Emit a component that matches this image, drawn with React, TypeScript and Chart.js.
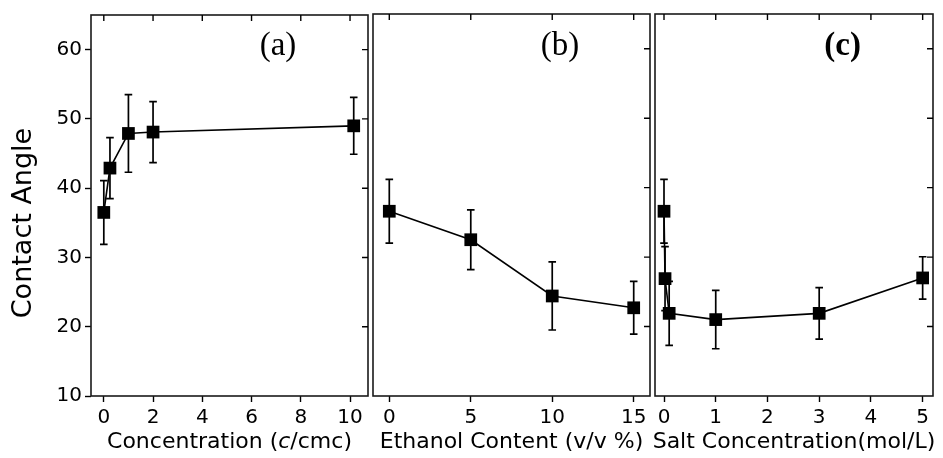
import React, { useEffect, useRef } from "react";
import { Chart, registerables } from "chart.js";
Chart.register(...registerables);

// ---------- data ----------
const yTickValues = [10, 20, 30, 40, 50, 60];
const yMin = 10;
const yMax = 65;
const yTitle = "Contact Angle";

const aLabel = "(a)";
// title parts: [text, italic]
const aTitleParts: [string, boolean][] = [["Concentration (", false], ["c", true], ["/cmc)", false]];
const aX = [0, 0.25, 1, 2, 10.15];
const aY = [36.5, 42.9, 47.9, 48.1, 49.0];
const aErr = [4.6, 4.4, 5.6, 4.4, 4.1];
const aTicks = [0, 2, 4, 6, 8, 10];

const bLabel = "(b)";
const bTitleParts: [string, boolean][] = [["Ethanol Content (v/v %)", false]];
const bX = [0, 5, 10, 15];
const bY = [36.6, 32.5, 24.4, 22.7];
const bErr = [4.6, 4.3, 4.9, 3.8];
const bTicks = [0, 5, 10, 15];

const cLabel = "(c)";
const cTitleParts: [string, boolean][] = [["Salt Concentration(mol/L)", false]];
const cX = [0, 0.02, 0.1, 1, 3, 5];
const cY = [36.6, 26.9, 21.9, 21.0, 21.9, 27.0];
const cErr = [4.6, 4.6, 4.6, 4.2, 3.7, 3.05];
const cTicks = [0, 1, 2, 3, 4, 5];

// ---------- layout ----------
const W = 943;
const H = 458;
const FONT = "'DejaVu Sans', 'Liberation Sans', Arial, sans-serif";
const SERIF = "'Liberation Serif', 'Times New Roman', serif";

type Panel = {
  key: string;
  label: string;
  labelBold: boolean;
  titleParts: [string, boolean][];
  xs: number[];
  ys: number[];
  err: number[];
  ticks: number[];
  xMin: number;
  xMax: number;
  left: number;
  right: number;
  showY: boolean;
};

const panels: Panel[] = [
  { key: "a", label: aLabel, labelBold: false, titleParts: aTitleParts, xs: aX, ys: aY, err: aErr, ticks: aTicks, xMin: -0.52, xMax: 10.73, left: 91, right: 368, showY: true },
  { key: "b", label: bLabel, labelBold: false, titleParts: bTitleParts, xs: bX, ys: bY, err: bErr, ticks: bTicks, xMin: -1.0, xMax: 16.0, left: 373, right: 650, showY: false },
  { key: "c", label: cLabel, labelBold: true, titleParts: cTitleParts, xs: cX, ys: cY, err: cErr, ticks: cTicks, xMin: -0.174, xMax: 5.2, left: 655, right: 933, showY: false },
];

const TOP = 14;
const BOTTOM = 396;

function makeConfig(p: Panel): any {
  const decorPlugin = {
    id: "decor" + p.key,
    beforeDatasetsDraw(chart: any) {
      const ctx = chart.ctx;
      const xs = chart.scales.x;
      const ys = chart.scales.y;
      ctx.save();
      ctx.strokeStyle = "#000";
      ctx.lineWidth = 1.7;
      p.xs.forEach((xv, i) => {
        const px = xs.getPixelForValue(xv);
        const pHi = ys.getPixelForValue(p.ys[i] + p.err[i]);
        const pLo = ys.getPixelForValue(p.ys[i] - p.err[i]);
        ctx.beginPath();
        ctx.moveTo(px, pHi);
        ctx.lineTo(px, pLo);
        ctx.moveTo(px - 3.8, pHi);
        ctx.lineTo(px + 3.8, pHi);
        ctx.moveTo(px - 3.8, pLo);
        ctx.lineTo(px + 3.8, pLo);
        ctx.stroke();
      });
      ctx.restore();
    },
    afterDraw(chart: any) {
      const ctx = chart.ctx;
      const a = chart.chartArea;
      const xs = chart.scales.x;
      const ys = chart.scales.y;
      ctx.save();
      // frame
      ctx.strokeStyle = "#1a1a1a";
      ctx.lineWidth = 1.6;
      ctx.strokeRect(a.left, a.top, a.right - a.left, a.bottom - a.top);
      // inward ticks (top & right)
      ctx.strokeStyle = "#000";
      ctx.lineWidth = 1.4;
      ctx.beginPath();
      p.ticks.forEach((t) => {
        const px = xs.getPixelForValue(t);
        ctx.moveTo(px, a.top);
        ctx.lineTo(px, a.top + 6);
      });
      yTickValues.forEach((t) => {
        if (t <= yMin) return;
        const py = ys.getPixelForValue(t);
        ctx.moveTo(a.right, py);
        ctx.lineTo(a.right - 6, py);
      });
      ctx.stroke();
      // panel label
      ctx.fillStyle = "#000";
      ctx.font = `${p.labelBold ? "bold " : ""}33px ${SERIF}`;
      ctx.textAlign = "center";
      ctx.textBaseline = "middle";
      ctx.fillText(p.label, a.left + 0.675 * (a.right - a.left), 46);
      // x title (mixed italic)
      const fontN = `22px ${FONT}`;
      const fontI = `italic 22px ${FONT}`;
      ctx.textAlign = "left";
      let total = 0;
      p.titleParts.forEach(([t, it]) => {
        ctx.font = it ? fontI : fontN;
        total += ctx.measureText(t).width;
      });
      let x = (a.left + a.right) / 2 - total / 2;
      p.titleParts.forEach(([t, it]) => {
        ctx.font = it ? fontI : fontN;
        ctx.fillText(t, x, 442.5);
        x += ctx.measureText(t).width;
      });
      // shared y title
      if (p.showY) {
        ctx.textAlign = "center";
        ctx.translate(24, 223);
        ctx.rotate(-Math.PI / 2);
        ctx.font = `27px ${FONT}`;
        ctx.fillText(yTitle, 0, 0);
      }
      ctx.restore();
    },
  };

  const gridCfg = {
    drawOnChartArea: false,
    drawTicks: true,
    tickLength: 6,
    tickColor: "#000",
    tickWidth: 1.4,
    color: "#000",
  };

  return {
    type: "scatter",
    data: {
      datasets: [
        {
          data: p.xs.map((x, i) => ({ x, y: p.ys[i] })),
          showLine: true,
          borderColor: "#000",
          borderWidth: 1.6,
          pointStyle: "rect",
          pointRadius: 9,
          pointBackgroundColor: "#000",
          pointBorderColor: "#000",
          pointBorderWidth: 0,
        },
      ],
    },
    options: {
      animation: false,
      responsive: false,
      devicePixelRatio: 1,
      events: [],
      layout: { padding: { left: 0, right: W - p.right, top: TOP, bottom: 0 } },
      plugins: { legend: { display: false }, tooltip: { enabled: false } },
      scales: {
        x: {
          type: "linear",
          min: p.xMin,
          max: p.xMax,
          afterBuildTicks: (s: any) => {
            s.ticks = p.ticks.map((v) => ({ value: v }));
          },
          afterFit: (s: any) => {
            s.height = H - BOTTOM;
          },
          grid: gridCfg,
          border: { display: false },
          ticks: {
            font: { family: FONT, size: 20 },
            color: "#000",
            padding: 4,
            maxRotation: 0,
            autoSkip: false,
          },
          title: { display: false },
        },
        y: {
          type: "linear",
          display: p.showY,
          min: yMin,
          max: yMax,
          afterBuildTicks: (s: any) => {
            s.ticks = yTickValues.map((v) => ({ value: v }));
          },
          afterFit: (s: any) => {
            s.width = p.left;
          },
          grid: gridCfg,
          border: { display: false },
          ticks: {
            font: { family: FONT, size: 20 },
            color: "#000",
            padding: 3,
          },
        },
      },
    },
    plugins: [decorPlugin],
  };
}

function PanelCanvas({ p }: { p: Panel }) {
  const ref = useRef<HTMLCanvasElement | null>(null);
  useEffect(() => {
    if (!ref.current) return;
    const chart = new Chart(ref.current, makeConfig(p));
    return () => chart.destroy();
  }, [p]);
  return (
    <canvas
      ref={ref}
      width={W}
      height={H}
      style={{ position: "absolute", left: 0, top: 0, width: W, height: H }}
    />
  );
}

export default function App() {
  return (
    <div style={{ position: "fixed", left: 0, top: 0, width: W, height: H, background: "#fff" }}>
      {panels.map((p) => (
        <PanelCanvas key={p.key} p={p} />
      ))}
    </div>
  );
}
